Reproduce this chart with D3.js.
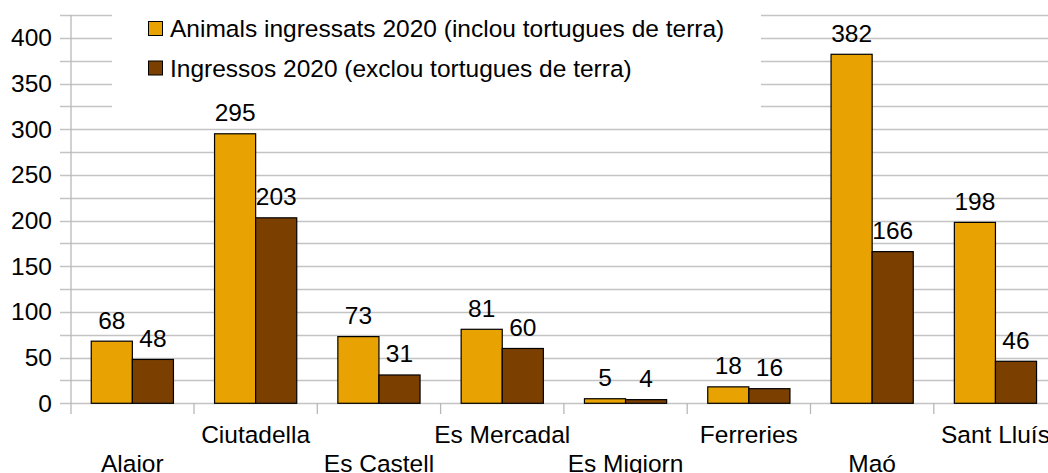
<!DOCTYPE html>
<html><head><meta charset="utf-8">
<script src="https://cdn.jsdelivr.net/npm/d3@7"></script>
<style>body{margin:0;background:#fff}svg{display:block}text{font-family:"Liberation Sans",Arial,sans-serif;fill:#000}</style>
</head><body><svg id="c" width="1048" height="473"></svg>
<script>
const categories = ["Alaior","Ciutadella","Es Castell","Es Mercadal","Es Migiorn","Ferreries","Maó","Sant Lluís"];
const seriesNames = ["Animals ingressats 2020 (inclou tortugues de terra)","Ingressos 2020 (exclou tortugues de terra)"];
const animalsIngressats = [68,295,73,81,5,18,382,198];
const ingressos = [48,203,31,60,4,16,166,46];
const yTicks = [0,50,100,150,200,250,300,350,400];
const gridValues = [0,25,50,75,100,125,150,175,200,225,250,275,300,325,350,375,400,425];
const colors = ["#e8a202","#7b3f00"];

const FS = 24.5;
const svg = d3.select("#c");
const x0 = 70.7, x1 = 70.7 + 8*123.3, yTop = 15, yBot = 403.3;
const x = d3.scaleBand().domain(categories).range([x0,x1]).paddingInner(0).paddingOuter(0);
const y = d3.scaleLinear().domain([0,425]).range([yBot,yTop]);
const inner = d3.scaleBand().domain([0,1]).range([0, x.bandwidth()]).paddingOuter(0.5).paddingInner(0);

// grid
svg.append("g").selectAll("line").data(gridValues).join("line")
  .attr("x1",60).attr("x2",x1).attr("y1",d=>Math.round(y(d))+0.5).attr("y2",d=>Math.round(y(d))+0.5)
  .attr("stroke","#c4c4c4").attr("stroke-width",1.3);
// y axis line
svg.append("line").attr("x1",71).attr("x2",71).attr("y1",yTop).attr("y2",414).attr("stroke","#b8b8b8").attr("stroke-width",1.3);
// x ticks
svg.append("g").selectAll("line").data(categories.slice(1)).join("line")
  .attr("x1",d=>x(d)).attr("x2",d=>x(d)).attr("y1",yBot).attr("y2",414)
  .attr("stroke","#b8b8b8").attr("stroke-width",1.3);
// y labels
svg.append("g").selectAll("text").data(yTicks).join("text")
  .attr("x",52).attr("y",d=>y(d)+8.5).attr("text-anchor","end").attr("font-size",FS).text(d=>d);

const data = categories.map((c,i)=>({c, v:[animalsIngressats[i], ingressos[i]]}));
const g = svg.append("g").selectAll("g").data(data).join("g").attr("transform",d=>`translate(${x(d.c)},0)`);
g.selectAll("rect").data(d=>d.v.map((v,k)=>({v,k}))).join("rect")
  .attr("x",d=>inner(d.k)).attr("width",inner.bandwidth())
  .attr("y",d=>y(d.v)).attr("height",d=>yBot-y(d.v))
  .attr("fill",d=>colors[d.k]).attr("stroke","#000").attr("stroke-width",1.2);

// category labels (staggered)
svg.append("g").selectAll("text").data(categories).join("text")
  .attr("x",d=>x(d)+x.bandwidth()/2).attr("y",(d,i)=>i%2===0?472:443)
  .attr("text-anchor","middle").attr("font-size",FS).text(d=>d);

// legend
svg.append("rect").attr("x",112).attr("y",7).attr("width",649).attr("height",111).attr("fill","#fff");
const lg = svg.append("g").selectAll("g").data(seriesNames).join("g").attr("transform",(d,i)=>`translate(148,${21+i*39.5})`);
lg.append("rect").attr("x",0.5).attr("y",0.5).attr("width",14).attr("height",14).attr("fill",(d,i)=>colors[i]).attr("stroke","#000").attr("stroke-width",1);
lg.append("text").attr("x",22).attr("y",16).attr("font-size",FS).text(d=>d);

// data labels on top
const gl = svg.append("g").selectAll("g").data(data).join("g").attr("transform",d=>`translate(${x(d.c)},0)`);
gl.selectAll("text").data(d=>d.v.map((v,k)=>({v,k}))).join("text")
  .attr("x",d=>inner(d.k)+inner.bandwidth()/2).attr("y",d=>y(d.v)-12.5)
  .attr("text-anchor","middle").attr("font-size",FS).text(d=>d.v);
</script></body></html>
